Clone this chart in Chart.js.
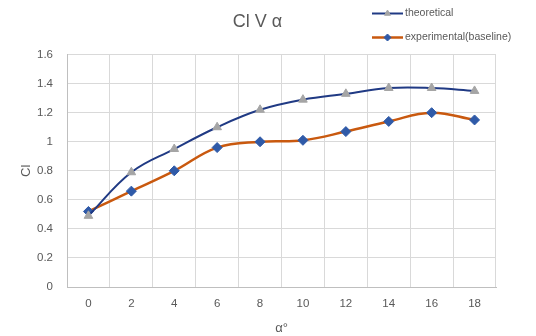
<!DOCTYPE html>
<html>
<head>
<meta charset="utf-8">
<script src="https://cdn.jsdelivr.net/npm/chart.js@4/dist/chart.umd.min.js"></script>
<style>
  html, body { margin: 0; padding: 0; background: #fff; }
  #wrap { width: 536px; height: 336px; }
</style>
</head>
<body>
<div id="wrap"><canvas id="chart" width="536" height="336"></canvas></div>
<script>
const alphaLabels = ['0', '2', '4', '6', '8', '10', '12', '14', '16', '18']
const theoretical = [0.49, 0.79, 0.95, 1.10, 1.22, 1.29, 1.33, 1.37, 1.37, 1.35]
const experimental = [0.52, 0.66, 0.80, 0.96, 1.00, 1.01, 1.07, 1.14, 1.20, 1.15]

const textColor = '#595959'
const gridColor = '#d9d9d9'
const fontFamily = '"Liberation Sans", Arial, sans-serif'

// legend stacked in the top right corner, like the excel original
const stackedLegend = {
    id: 'stackedLegend',
    afterDraw(chart) {
        const ctx = chart.ctx
        const rows = [13.5, 37.5]
        chart.data.datasets.forEach(function(ds, i) {
            const y = rows[i]
            ctx.save()
            ctx.strokeStyle = ds.borderColor
            ctx.lineWidth = ds.borderWidth
            ctx.beginPath()
            ctx.moveTo(372, y)
            ctx.lineTo(403, y)
            ctx.stroke()
            ctx.fillStyle = ds.pointBackgroundColor
            ctx.strokeStyle = ds.pointBorderColor
            ctx.lineWidth = 1
            Chart.helpers.drawPoint(ctx, {
                pointStyle: ds.pointStyle,
                radius: 3.5,
                borderWidth: 1
            }, 387.5, y)
            ctx.fillStyle = textColor
            ctx.font = '10.5px ' + fontFamily
            ctx.textBaseline = 'middle'
            ctx.textAlign = 'left'
            ctx.fillText(ds.label, 405, y)
            ctx.restore()
        })
    }
}

const data = {
    labels: alphaLabels,
    datasets: [{
        label: 'theoretical',
        data: theoretical,
        borderColor: '#203a84',
        borderWidth: 2,
        pointStyle: 'triangle',
        pointRadius: 5,
        pointBackgroundColor: '#a5a5a5',
        pointBorderColor: '#a5a5a5',
        pointBorderWidth: 1,
        tension: 0.4
    }, {
        label: 'experimental(baseline)',
        data: experimental,
        borderColor: '#c9590f',
        borderWidth: 2.5,
        pointStyle: 'rectRot',
        pointRadius: 5,
        pointBackgroundColor: '#2f5aa8',
        pointBorderColor: '#2f5aa8',
        pointBorderWidth: 1,
        tension: 0.4
    }]
}

const config = {
    type: 'line',
    data: data,
    options: {
        responsive: false,
        animation: false,
        layout: {
            padding: { left: 19, right: 40, top: 0, bottom: 0 }
        },
        scales: {
            x: {
                offset: true,
                grid: {
                    offset: true,
                    color: gridColor,
                    lineWidth: 1,
                    drawTicks: false
                },
                border: { color: '#bfbfbf' },
                ticks: {
                    color: textColor,
                    padding: 10,
                    font: { family: fontFamily, size: 11.5 }
                },
                title: {
                    display: true,
                    text: 'α°',
                    color: textColor,
                    padding: { top: 6, bottom: 0 },
                    font: { family: fontFamily, size: 13 }
                },
                afterFit: function(scale) {
                    scale.height = 49
                }
            },
            y: {
                min: 0,
                max: 1.6,
                grid: {
                    color: gridColor,
                    lineWidth: 1,
                    drawTicks: false
                },
                border: { color: '#bfbfbf' },
                ticks: {
                    stepSize: 0.2,
                    color: textColor,
                    padding: 14,
                    font: { family: fontFamily, size: 11.5 },
                    callback: function(v) {
                        return Math.round(v * 10) / 10
                    }
                },
                title: {
                    display: true,
                    text: 'Cl',
                    color: textColor,
                    padding: 0,
                    font: { family: fontFamily, size: 13 }
                },
                afterFit: function(scale) {
                    scale.width = 48
                }
            }
        },
        plugins: {
            legend: { display: false },
            tooltip: { enabled: false },
            title: {
                display: true,
                text: 'Cl V α',
                color: textColor,
                padding: { top: 11, bottom: 22 },
                font: { family: fontFamily, size: 18, weight: 'normal' }
            }
        }
    },
    plugins: [stackedLegend]
}

chart = new Chart(document.getElementById('chart'), config)
</script>
</body>
</html>
